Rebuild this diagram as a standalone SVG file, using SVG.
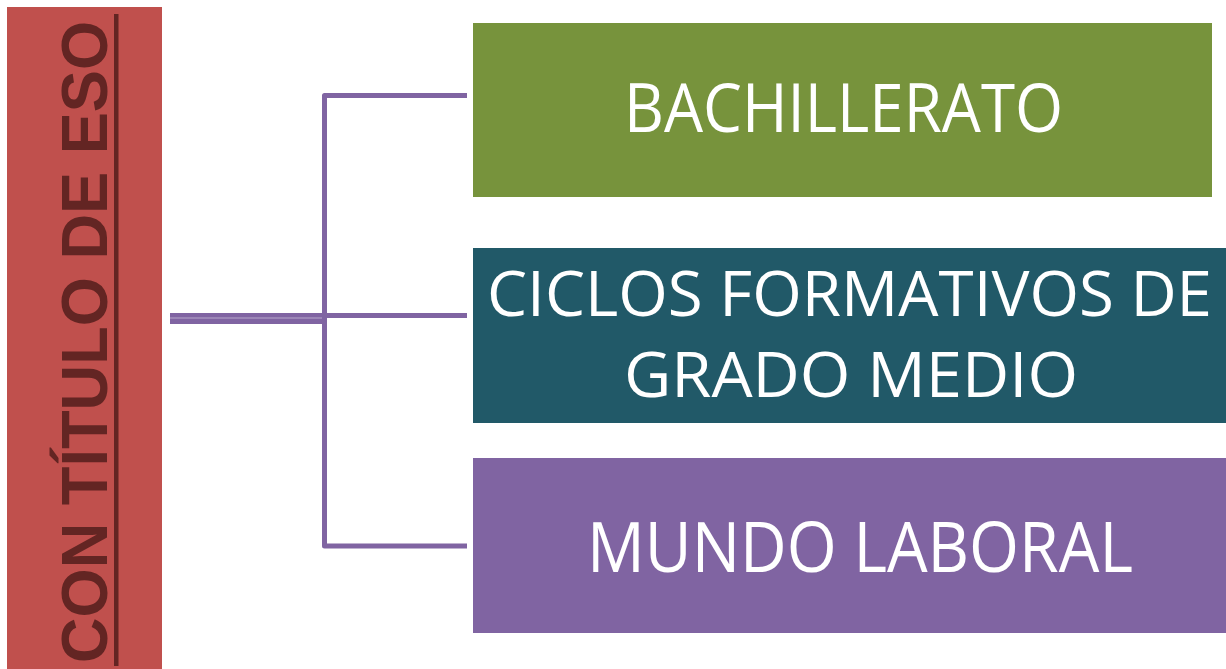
<svg xmlns="http://www.w3.org/2000/svg" width="1226" height="669" viewBox="0 0 1226 669">
<style>
.lbl{font-family:"Open Sans","Noto Sans",sans-serif;fill:#FFFFFF;text-anchor:middle}
.conn{fill:none;stroke:#8064A2;stroke-width:5;stroke-linejoin:round}
</style>
<rect x="0" y="0" width="1226" height="669" fill="#FFFFFF"/>
<g id="node-eso">
<rect x="7" y="7" width="155" height="670" fill="#C0504D"/>
<text transform="translate(107,342) rotate(-90)" text-anchor="middle" font-family="Liberation Sans, Arial, sans-serif" font-weight="bold" font-size="64" fill="#632523" textLength="642" lengthAdjust="spacingAndGlyphs">CON TÍTULO DE ESO</text>
<rect x="114" y="14" width="4.5" height="652" fill="#632523"/>
</g>
<g id="connectors">
<line x1="170" y1="318.5" x2="326" y2="318.5" stroke="#8064A2" stroke-width="11"/>
<line x1="170" y1="318" x2="322" y2="318" stroke="#B8A8CC" stroke-width="1.2"/>
<path class="conn" d="M467 95.5 H324.5 V546 H467"/>
<line class="conn" x1="324.5" y1="315.5" x2="467" y2="315.5"/>
</g>
<g id="node-bachillerato">
<rect x="473" y="23" width="739" height="174" fill="#77933C"/>
<text class="lbl" x="843.5" y="132" font-size="67" textLength="439" lengthAdjust="spacingAndGlyphs">BACHILLERATO</text>
</g>
<g id="node-ciclos">
<rect x="473" y="248" width="753" height="175" fill="#215968"/>
<text class="lbl" x="849.5" y="316" font-size="62" textLength="725" lengthAdjust="spacingAndGlyphs">CICLOS FORMATIVOS DE</text>
<text class="lbl" x="851" y="397" font-size="62" textLength="454" lengthAdjust="spacingAndGlyphs">GRADO MEDIO</text>
</g>
<g id="node-mundo">
<rect x="473" y="458" width="753" height="175" fill="#8064A2"/>
<text class="lbl" x="860" y="572" font-size="69" textLength="546" lengthAdjust="spacingAndGlyphs">MUNDO LABORAL</text>
</g>
</svg>
